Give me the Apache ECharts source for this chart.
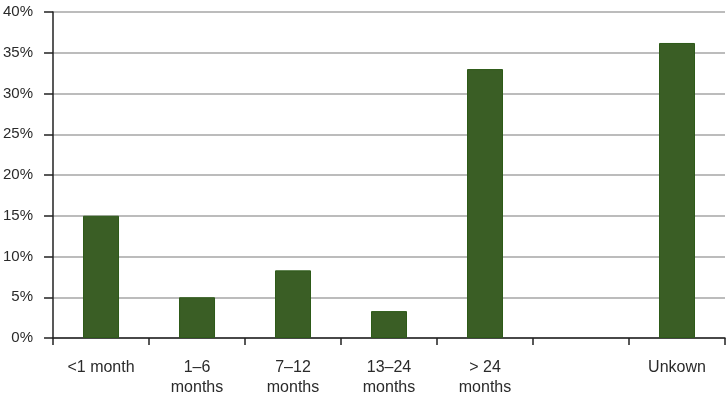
<!DOCTYPE html>
<html>
<head>
<meta charset="utf-8">
<script src="https://cdn.jsdelivr.net/npm/echarts@6/dist/echarts.min.js"></script>
<style>
  html, body { margin: 0; padding: 0; background: #fff; }
  #main { width: 726px; height: 399px; }
</style>
</head>
<body>
<div id="main"></div>
<script>
// categories along x (one empty slot before Unkown)
var categories = ['<1 month', '1–6\nmonths', '7–12\nmonths', '13–24\nmonths', '> 24\nmonths', '', 'Unkown'];
// share in percent
var shares = [15, 5, 8.3, 3.3, 33, null, 36.2];

var chart = echarts.init(document.getElementById('main'));

var option = {
  animation: false,
  textStyle: { fontFamily: 'Liberation Sans, Arial, sans-serif' },
  grid: { left: 53, right: 1, top: 12, bottom: 61, containLabel: false },
  xAxis: {
    type: 'category',
    data: categories,
    axisLine: { lineStyle: { color: '#222', width: 1.5 } },
    axisTick: { show: true, length: 7, lineStyle: { color: '#222', width: 1.5 } },
    axisLabel: { color: '#2a2a2a', fontSize: 16, margin: 20, lineHeight: 20, interval: 0 }
  },
  yAxis: {
    type: 'value',
    min: 0,
    max: 40,
    interval: 5,
    axisLine: { show: true, lineStyle: { color: '#222', width: 1.5 } },
    axisTick: { show: true, length: 9, lineStyle: { color: '#222', width: 1.5 } },
    axisLabel: { color: '#2a2a2a', fontSize: 15, margin: 20, formatter: '{value}%' },
    splitLine: { lineStyle: { color: '#a6a6a6', width: 1.5 } }
  },
  series: [{
    type: 'bar',
    data: shares,
    barWidth: 36,
    itemStyle: { color: '#3a5e25', borderColor: '#2d5a18', borderWidth: 1 }
  }]
};

chart.setOption(option);
</script>
</body>
</html>
